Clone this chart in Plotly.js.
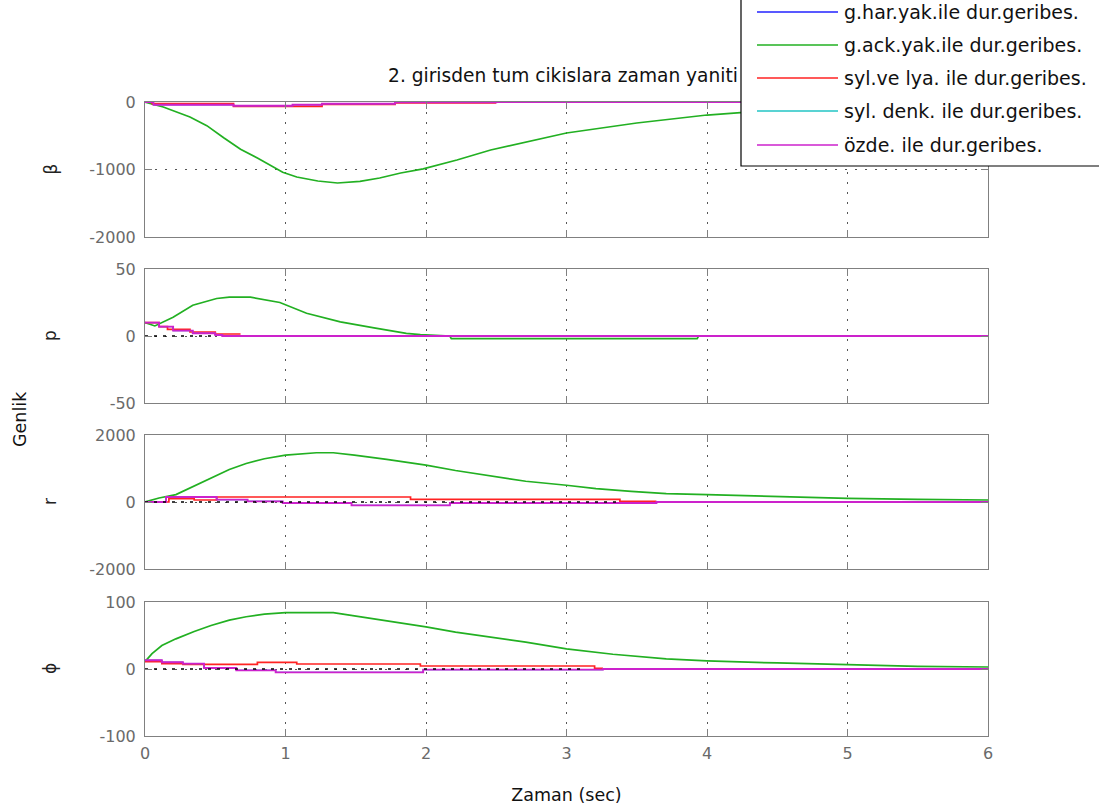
<!DOCTYPE html>
<html>
<head>
<meta charset="utf-8">
<script src="https://cdn.plot.ly/plotly-3.0.1.min.js"></script>
<style>html,body{margin:0;padding:0;background:#fff;}#chart{width:1099px;height:809px;}</style>
</head>
<body>
<div id="chart"></div>
<script>
// ---------------- DATA ----------------
const seriesNames = ["g.har.yak.ile dur.geribes.", "g.ack.yak.ile dur.geribes.", "syl.ve lya. ile dur.geribes.", "syl. denk. ile dur.geribes.", "özde. ile dur.geribes."];
const seriesColors = ["#2222ff", "#22b022", "#ff2222", "#22c4c4", "#cc22cc"];
const outputLabels = ["β", "p", "r", "ϕ"];
const yRanges = [[-2000, 0], [-50, 50], [-2000, 2000], [-100, 100]];
const yTickVals = [[-2000, -1000, 0], [-50, 0, 50], [-2000, 0, 2000], [-100, 0, 100]];
const yTickText = [["-2000", "-1000", "0"], ["-50", "0", "50"], ["-2000", "0", "2000"], ["-100", "0", "100"]];
const xTickVals = [0, 1, 2, 3, 4, 5, 6];

// β output
const tBetaGreen = [0, 0.13, 0.32, 0.44, 0.56, 0.68, 0.80, 0.91, 0.98, 1.08, 1.23, 1.37, 1.53, 1.67, 1.82, 1.98, 2.22, 2.46, 2.77, 3.0, 3.5, 4.0, 4.5, 5.0, 5.5, 6.0];
const betaGreen = [0, -74, -222, -350, -530, -700, -830, -955, -1040, -1111, -1170, -1200, -1175, -1126, -1052, -990, -859, -711, -563, -459, -311, -193, -118, -70, -40, -25];
const tBetaRed = [0, 0.05, 0.63, 1.26, 1.78, 2.5];
const betaRed = [0, -25, -65, -35, -15, -15];
const tBetaMag = [0, 0.06, 0.63, 1.05, 1.26, 1.78, 2.5, 6];
const betaMag = [0, -40, -55, -40, -25, -5, 0, 0];
const tBetaBlue = [0, 0.06, 0.63, 1.05, 1.26, 1.78, 2.5, 6];
const betaBlue = [0, -40, -55, -40, -25, -5, 0, 0];
const tBetaCyan = [0, 0.06, 0.63, 1.05, 1.26, 1.78, 2.5, 6];
const betaCyan = [0, -40, -55, -40, -25, -5, 0, 0];
const tBetaFinal = [0, 0];
const betaFinal = [0, 0];

// p output
const tPGreen = [0, 0.07, 0.2, 0.34, 0.51, 0.6, 0.75, 0.96, 1.15, 1.39, 1.63, 1.86, 1.96, 2.17, 2.18, 3.93, 3.94, 6];
const pGreen = [10, 7.5, 14, 23, 28, 29, 29, 25, 17, 10.5, 6, 2, 1, 0, -2, -2, 0, 0];
const tPRed = [0, 0.1, 0.16, 0.32, 0.5, 0.68];
const pRed = [10, 7, 5, 3, 1.5, 1.5];
const tPMag = [0, 0.1, 0.2, 0.34, 0.5, 0.55, 6];
const pMag = [10, 7, 4, 2, 0.7, 0, 0];
const tPBlue = [0, 0.1, 0.2, 0.34, 0.5, 0.55, 6];
const pBlue = [10, 7, 4, 2, 0.7, 0, 0];
const tPCyan = [0, 0.1, 0.2, 0.34, 0.5, 0.55, 6];
const pCyan = [10, 7, 4, 2, 0.7, 0, 0];
const tPFinal = [0, 0.5];
const pFinal = [0, 0];

// r output
const tRGreen = [0, 0.1, 0.22, 0.35, 0.47, 0.6, 0.72, 0.85, 1.0, 1.22, 1.34, 1.49, 1.72, 2.0, 2.21, 2.46, 2.71, 3.0, 3.21, 3.46, 3.71, 4.0, 4.5, 5.0, 5.5, 6.0];
const rGreen = [0, 120, 220, 470, 720, 970, 1150, 1290, 1400, 1470, 1470, 1400, 1270, 1100, 940, 770, 620, 500, 400, 320, 250, 220, 160, 110, 80, 60];
const tRRed = [0, 0.17, 0.35, 0.51, 1.89, 3.38, 3.64];
const rRed = [0, 100, 60, 150, 80, 20, 20];
const tRMag = [0, 0.15, 0.51, 0.73, 0.98, 1.47, 2.17, 3.64, 6];
const rMag = [0, 150, 70, 20, -30, -100, -30, 0, 0];
const tRBlue = [0, 0.15, 0.51, 0.73, 0.98, 1.47, 2.17, 3.64, 6];
const rBlue = [0, 150, 70, 20, -30, -100, -30, 0, 0];
const tRCyan = [0, 0.15, 0.51, 0.73, 0.98, 1.47, 2.17, 3.64, 6];
const rCyan = [0, 150, 70, 20, -30, -100, -30, 0, 0];
const tRFinal = [0, 3.38];
const rFinal = [0, 0];

// ϕ output
const tPhiGreen = [0, 0.05, 0.12, 0.22, 0.35, 0.47, 0.6, 0.72, 0.85, 1.0, 1.34, 1.59, 1.84, 2.0, 2.21, 2.46, 2.71, 3.0, 3.33, 3.71, 4.0, 4.5, 5.0, 5.5, 6.0];
const phiGreen = [11, 23, 35, 45, 56, 65, 73, 78, 82, 84, 84, 76, 68, 63, 55, 48, 40, 30, 22, 15, 12, 9, 6, 4, 3];
const tPhiRed = [0, 0.12, 0.27, 0.8, 1.08, 1.96, 3.2, 3.26];
const phiRed = [11, 8, 7, 10, 7.5, 4.5, 1, 1];
const tPhiMag = [0, 0.12, 0.27, 0.42, 0.65, 0.93, 1.98, 3.26, 6];
const phiMag = [13, 10, 8, 1.5, -2, -5, -1, 0, 0];
const tPhiBlue = [0, 0.12, 0.27, 0.42, 0.65, 0.93, 1.98, 3.26, 6];
const phiBlue = [13, 10, 8, 1.5, -2, -5, -1, 0, 0];
const tPhiCyan = [0, 0.12, 0.27, 0.42, 0.65, 0.93, 1.98, 3.26, 6];
const phiCyan = [13, 10, 8, 1.5, -2, -5, -1, 0, 0];
const tPhiFinal = [0, 3.13];
const phiFinal = [0, 0];

const titleText = "2. girisden tum cikislara zaman yaniti";
const xLabel = "Zaman (sec)";
const yLabel = "Genlik";

// ---------------- BUILD ----------------
const W = 1099, H = 809;
const px = v => v / W;
const py = v => 1 - v / H;
const FONT = "DejaVu Sans";

const panels = [
  {blue:[tBetaBlue,betaBlue], green:[tBetaGreen,betaGreen], red:[tBetaRed,betaRed], cyan:[tBetaCyan,betaCyan], mag:[tBetaMag,betaMag], fin:[tBetaFinal,betaFinal]},
  {blue:[tPBlue,pBlue], green:[tPGreen,pGreen], red:[tPRed,pRed], cyan:[tPCyan,pCyan], mag:[tPMag,pMag], fin:[tPFinal,pFinal]},
  {blue:[tRBlue,rBlue], green:[tRGreen,rGreen], red:[tRRed,rRed], cyan:[tRCyan,rCyan], mag:[tRMag,rMag], fin:[tRFinal,rFinal]},
  {blue:[tPhiBlue,phiBlue], green:[tPhiGreen,phiGreen], red:[tPhiRed,phiRed], cyan:[tPhiCyan,phiCyan], mag:[tPhiMag,phiMag], fin:[tPhiFinal,phiFinal]}
];
const domainsPx = [[102, 237], [269, 403], [435, 569], [602, 736]];
const xDomain = [px(145), px(988)];

const traces = [];
panels.forEach((p, i) => {
  const xa = 'x' + (i + 1), ya = 'y' + (i + 1);
  const order = [['blue', 0, 'hv', 1.0], ['green', 1, 'linear', 1.7], ['red', 2, 'hv', 1.7], ['cyan', 3, 'hv', 1.0], ['mag', 4, 'hv', 1.9]];
  order.forEach(([k, ci, shape, w]) => {
    traces.push({x: p[k][0], y: p[k][1], type: 'scatter', mode: 'lines', xaxis: xa, yaxis: ya,
      line: {color: seriesColors[ci], width: w, shape: shape}, name: seriesNames[ci], showlegend: false, hoverinfo: 'skip'});
  });
  if (p.fin[0][1] > p.fin[0][0]) {
    traces.push({x: p.fin[0], y: p.fin[1], type: 'scatter', mode: 'lines', xaxis: xa, yaxis: ya,
      line: {color: '#000', width: 1.5, dash: '3px,6px'}, showlegend: false, hoverinfo: 'skip'});
  }
});

const axisCommon = {
  showline: true, mirror: 'ticks', linecolor: '#808080', linewidth: 1,
  ticks: 'inside', ticklen: 7, tickcolor: '#808080', tickwidth: 1,
  showgrid: true, gridcolor: '#555555', griddash: '2px,8px', gridwidth: 1,
  zeroline: false, tickfont: {family: FONT, size: 16, color: '#6a6a6a'}
};

const layout = {
  width: W, height: H, margin: {l: 0, r: 0, t: 0, b: 0},
  paper_bgcolor: '#fff', plot_bgcolor: '#fff', showlegend: false,
  title: {text: titleText, x: px(563), y: py(75), xref: 'paper', yref: 'paper', xanchor: 'center', yanchor: 'middle',
    font: {family: FONT, size: 18.6, color: '#111'}},
  shapes: [], annotations: []
};

for (let i = 0; i < 4; i++) {
  const n = i + 1;
  layout['xaxis' + n] = Object.assign({}, axisCommon, {
    domain: xDomain, range: [0, 6], tickvals: xTickVals, anchor: 'y' + n,
    showticklabels: i === 3, ticklabelstandoff: 3
  });
  if (i === 3) {
    layout['xaxis' + n].title = {text: xLabel, font: {family: FONT, size: 17.5, color: '#111'}, standoff: 26};
  }
  if (i > 0) layout['xaxis' + n].matches = 'x';
  const r = yRanges[i];
  layout['yaxis' + n] = Object.assign({}, axisCommon, {
    domain: [py(domainsPx[i][1]), py(domainsPx[i][0])], range: r, tickvals: yTickVals[i], ticktext: yTickText[i],
    anchor: 'x' + n, ticklabelstandoff: 5
  });
  layout.annotations.push({text: outputLabels[i], xref: 'paper', yref: 'paper', x: px(50), y: py((domainsPx[i][0] + domainsPx[i][1]) / 2),
    showarrow: false, textangle: -90, xanchor: 'center', yanchor: 'middle', font: {family: FONT, size: 17, color: '#222'}});
}
layout.annotations.push({text: yLabel, xref: 'paper', yref: 'paper', x: px(20), y: py(419), showarrow: false, textangle: -90,
  xanchor: 'center', yanchor: 'middle', font: {family: FONT, size: 17.5, color: '#111'}});

// manual legend box
layout.shapes.push({type: 'rect', xref: 'paper', yref: 'paper', x0: px(741), x1: px(1105), y0: py(166), y1: py(-5),
  fillcolor: '#fff', line: {color: '#000', width: 1.2}, layer: 'above'});
const legendRows = [12, 45, 78, 111, 145];
seriesNames.forEach((nm, i) => {
  layout.shapes.push({type: 'line', xref: 'paper', yref: 'paper', x0: px(757), x1: px(838), y0: py(legendRows[i]), y1: py(legendRows[i]),
    line: {color: seriesColors[i], width: 1.7}, layer: 'above'});
  layout.annotations.push({text: nm, xref: 'paper', yref: 'paper', x: px(842), y: py(legendRows[i]), showarrow: false,
    xanchor: 'left', yanchor: 'middle', font: {family: FONT, size: 19, color: '#111'}});
});

Plotly.newPlot('chart', traces, layout, {staticPlot: true, displayModeBar: false});
</script>
</body>
</html>
